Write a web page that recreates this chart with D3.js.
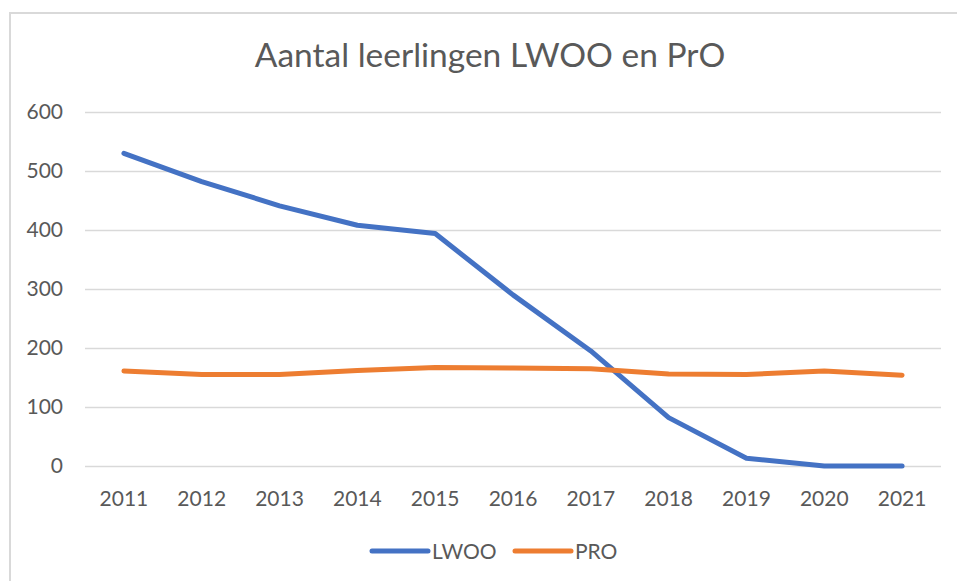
<!DOCTYPE html>
<html>
<head>
<meta charset="utf-8">
<script src="https://cdn.jsdelivr.net/npm/d3@7"></script>
<style>
  body { margin: 0; background: #fff; }
  svg text { font-family: Lato, "Open Sans", sans-serif; fill: #595959; }
  .grid line { stroke: #d9d9d9; stroke-width: 1.5; }
</style>
</head>
<body>
<div id="chart"></div>
<script>
// data
var years = ["2011", "2012", "2013", "2014", "2015", "2016", "2017", "2018", "2019", "2020", "2021"];
var lwoo = [530, 482, 441, 408, 394, 290, 195, 82, 13, 0, 0];
var pro = [161, 155, 155, 162, 167, 166, 165, 156, 155, 161, 154];
var yTicks = [0, 100, 200, 300, 400, 500, 600];
var seriesNames = ["LWOO", "PRO"];
var colors = ["#4472C4", "#ED7D31"];
var title = "Aantal leerlingen LWOO en PrO";

(function() {
  var W = 957, H = 581;
  var plotLeft = 85, plotRight = 941, plotTop = 112, plotBottom = 466;

  var svg = d3.select("#chart").append("svg")
    .attr("width", W)
    .attr("height", H);

  // chart border (runs off the right and bottom edge)
  svg.append("rect")
    .attr("x", 10).attr("y", 13)
    .attr("width", 990).attr("height", 620)
    .attr("fill", "#fff")
    .attr("stroke", "#d9d9d9")
    .attr("stroke-width", 2);

  var x = d3.scaleBand().domain(years).range([plotLeft, plotRight]).padding(0);
  var y = d3.scaleLinear().domain([0, 600]).range([plotBottom, plotTop]);

  // y axis + gridlines
  var yAxis = svg.append("g")
    .attr("class", "grid")
    .attr("transform", "translate(" + plotLeft + ",0)")
    .call(d3.axisLeft(y).tickValues(yTicks).tickSize(-(plotRight - plotLeft)).tickPadding(22));
  yAxis.select(".domain").remove();
  yAxis.selectAll("text").attr("font-size", 21).style("font-family", "Lato");

  // x axis
  var xAxis = svg.append("g")
    .attr("transform", "translate(0," + plotBottom + ")")
    .call(d3.axisBottom(x).tickSize(0).tickPadding(25));
  xAxis.select(".domain").remove();
  xAxis.selectAll("text").attr("font-size", 21).style("font-family", "Lato");

  // lines
  var line = d3.line()
    .x(function(d, i) { return x(years[i]) + x.bandwidth() / 2; })
    .y(function(d) { return y(d); });

  [lwoo, pro].forEach(function(s, i) {
    svg.append("path")
      .datum(s)
      .attr("fill", "none")
      .attr("stroke", colors[i])
      .attr("stroke-width", 5)
      .attr("stroke-linecap", "round")
      .attr("stroke-linejoin", "round")
      .attr("d", line);
  });

  // title
  svg.append("text")
    .attr("x", 490).attr("y", 67)
    .attr("text-anchor", "middle")
    .attr("font-size", 33.5)
    .text(title);

  // legend
  var legendX = [372, 515];
  seriesNames.forEach(function(name, i) {
    var g = svg.append("g").attr("transform", "translate(" + legendX[i] + ",551)");
    g.append("line")
      .attr("x1", 0).attr("x2", 56)
      .attr("stroke", colors[i])
      .attr("stroke-width", 5)
      .attr("stroke-linecap", "round");
    g.append("text")
      .attr("x", 60).attr("y", 7.5)
      .attr("font-size", 21)
      .text(name);
  });
})();
</script>
</body>
</html>
